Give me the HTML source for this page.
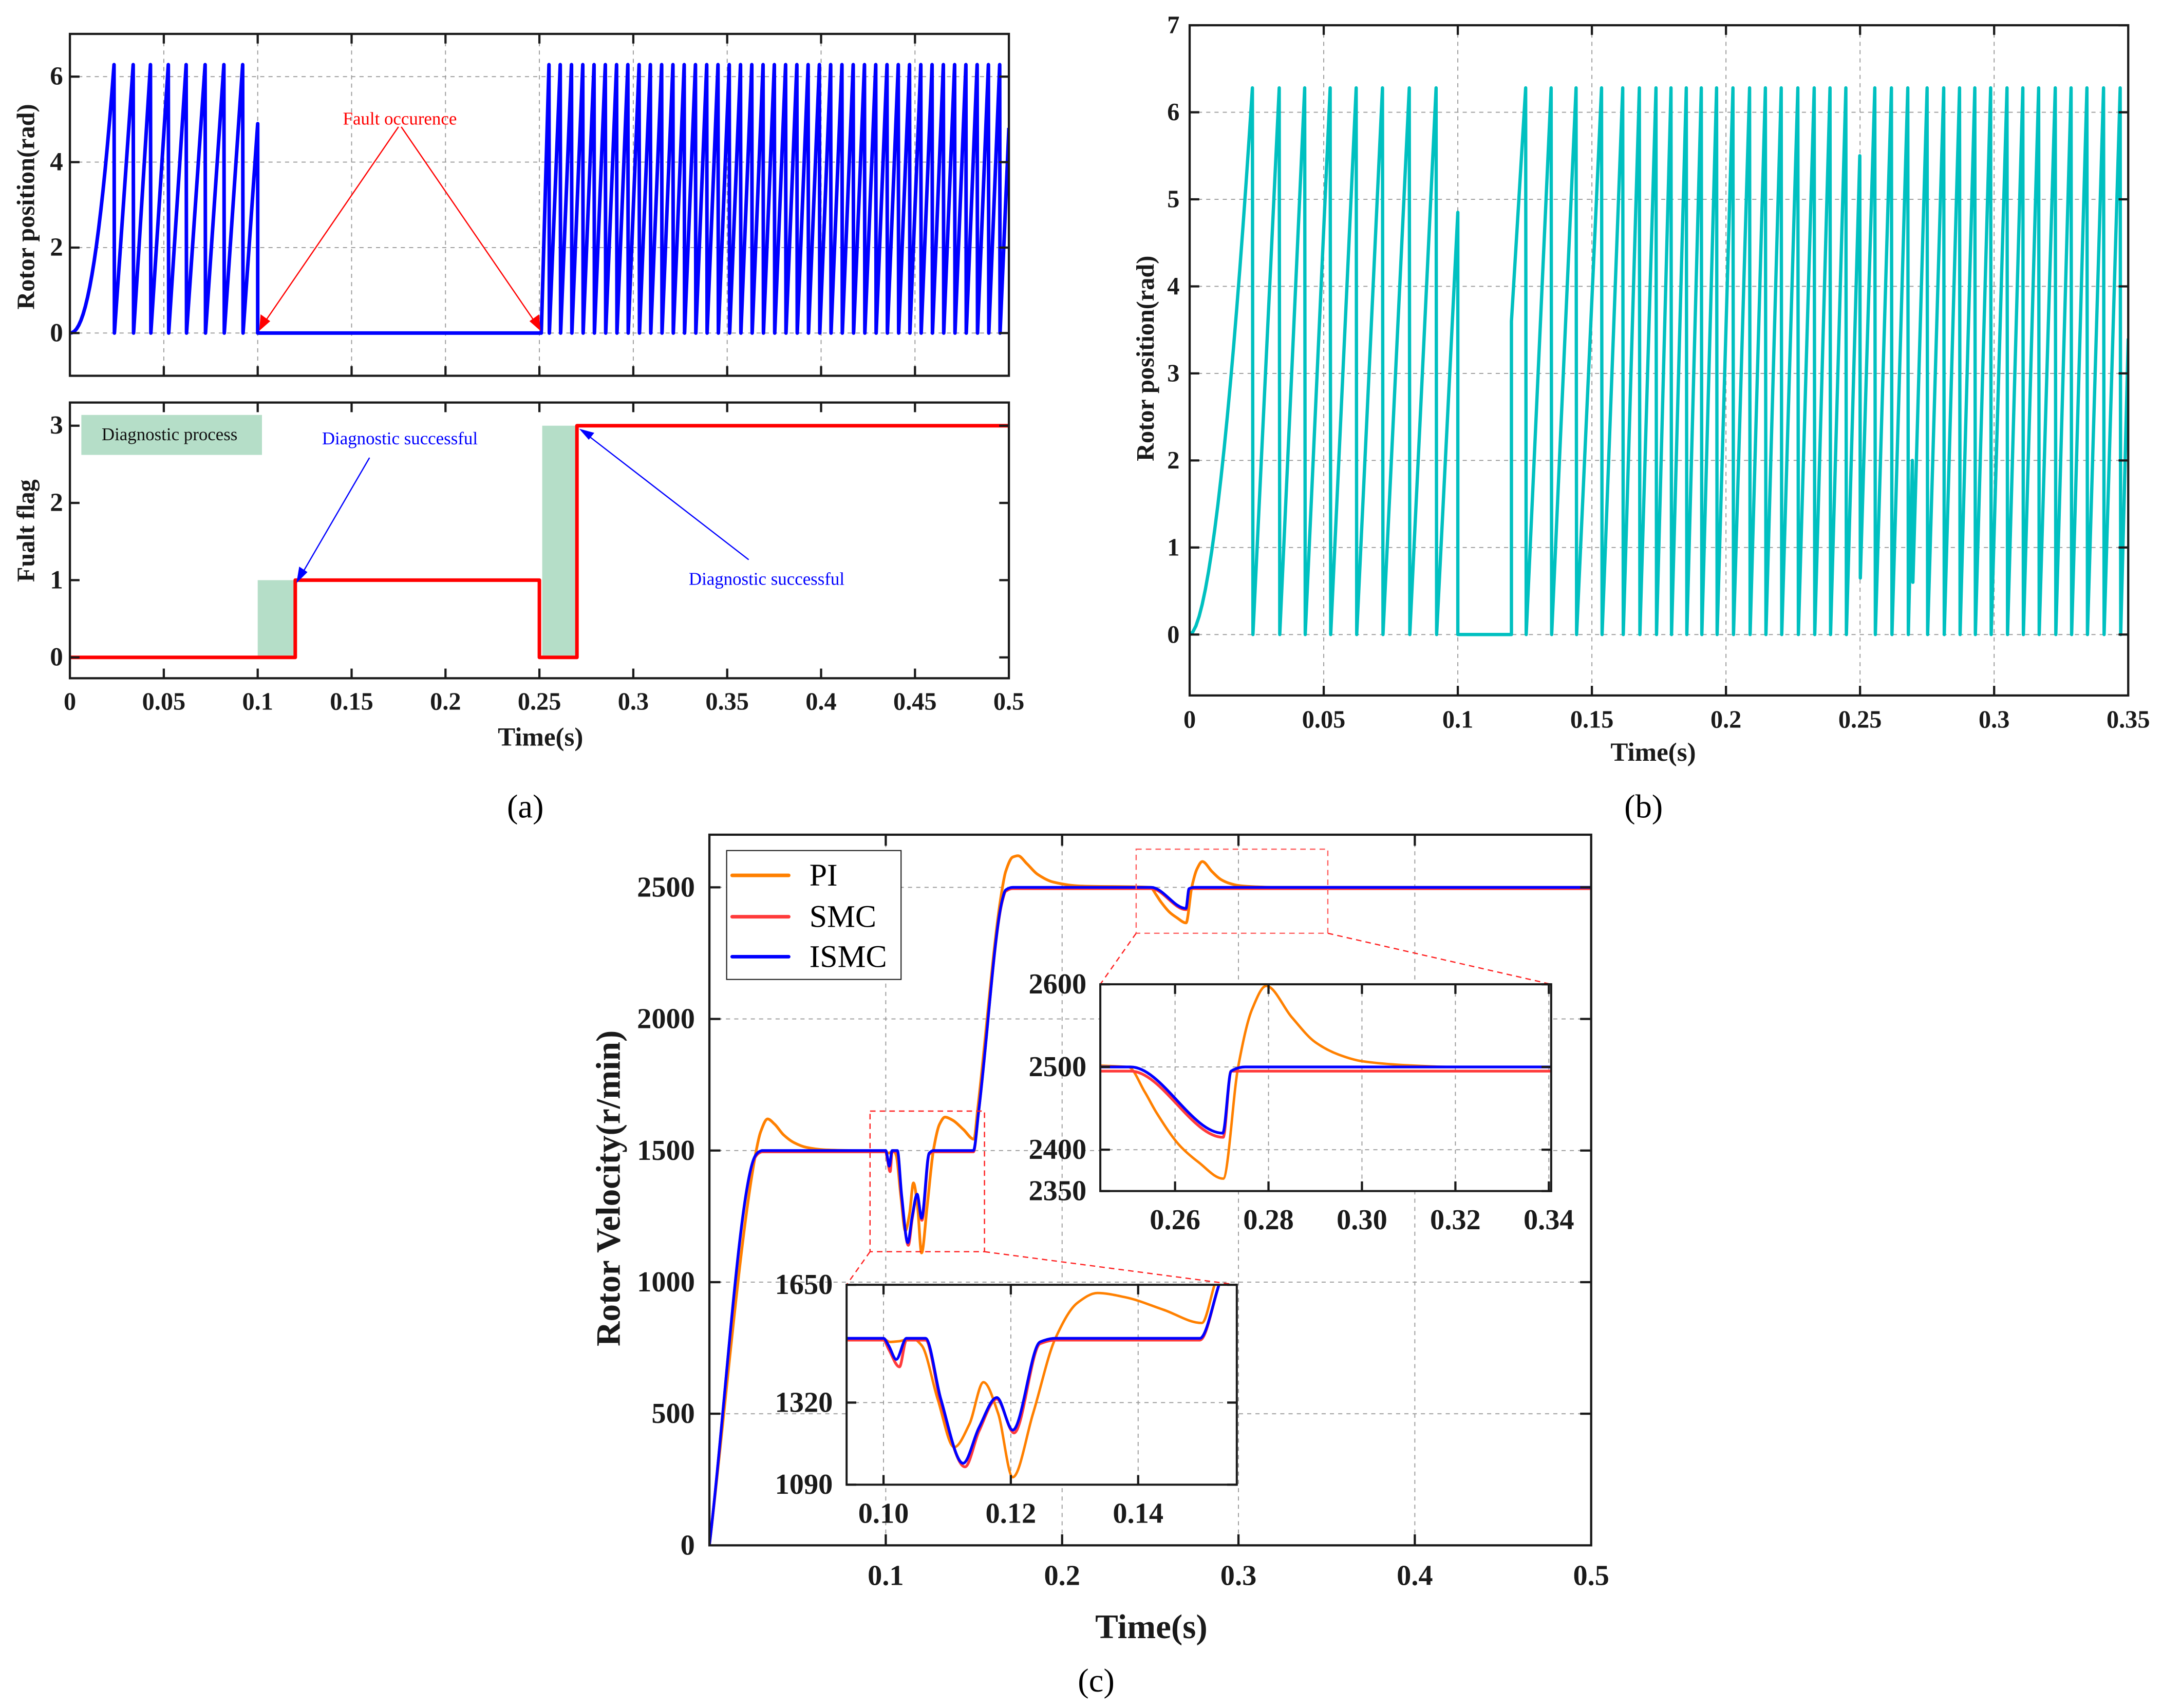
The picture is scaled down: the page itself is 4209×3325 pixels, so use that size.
<!DOCTYPE html>
<html><head><meta charset="utf-8"><style>
html,body{margin:0;padding:0;background:#fff;width:4209px;height:3325px;overflow:hidden;}
svg{display:block;position:absolute;left:0;top:0;}
text{font-family:"Liberation Serif",serif;}
</style></head><body>
<svg id="fig" xmlns="http://www.w3.org/2000/svg" width="4209" height="3325" viewBox="0 0 1568 1239" preserveAspectRatio="none" overflow="hidden"></svg>
<script>
// ---------- DATA ----------
const aPeaks1 = [0.0235,0.0337,0.0429,0.0524,0.0619,0.072,0.082,0.092];
const aPartial1 = 4.9;
const aPeaks2 = [0.2551,0.2611,0.2671,0.2731,0.2791,0.2851,0.2911,0.2971,0.3031,0.3091,0.3151,0.3211,0.3271,0.3331,0.3391,0.3451,0.3511,0.3571,0.3631,0.3691,0.3751,0.3811,0.3871,0.3931,0.3991,0.4051,0.4111,0.4171,0.4231,0.4291,0.4351,0.4411,0.4471,0.4531,0.4591,0.4651,0.4711,0.4771,0.4831,0.4891,0.4951];
const aPartialEnd = 4.8;
const flagT = [0,0.12,0.12,0.25,0.25,0.27,0.27,0.5];
const flagV = [0,0,1,1,0,0,3,3];
const bPeaks1 = [0.0234,0.0334,0.0429,0.0524,0.0621,0.0719,0.0819,0.0919];
const bPartial1 = 4.85;
const bRestartV = 3.6;
const bPeakT = [0.1253,0.1348,0.1441,0.1536,0.1615,0.1677,0.1739,0.1795,0.1852,0.1908,0.1965,0.2026,0.2088,0.2147,0.2206,0.2268,0.2329,0.2388,0.2447,0.2499,0.2555,0.2617,0.2678,0.2695,0.275,0.2812,0.2871,0.2928,0.2987,0.3048,0.3107,0.3166,0.3228,0.3287,0.3346,0.3408,0.347];
const bPeakV = [6.28,6.28,6.28,6.28,6.28,6.28,6.28,6.28,6.28,6.28,6.28,6.28,6.28,6.28,6.28,6.28,6.28,6.28,6.28,5.5,6.28,6.28,6.28,2.0,6.28,6.28,6.28,6.28,6.28,6.28,6.28,6.28,6.28,6.28,6.28,6.28,6.28];
const bResetV = [0,0,0,0,0,0,0,0,0,0,0,0,0,0,0,0,0,0,0,0.65,0,0,0,0.6,0,0,0,0,0,0,0,0,0,0,0,0,0];
const bEndV = 3.4;
const piT = [0,0.026,0.029,0.033,0.037,0.042,0.048,0.055,0.065,0.08,0.1,0.101,0.1025,0.1045,0.106,0.1085,0.1111,0.1135,0.1157,0.118,0.1203,0.1235,0.127,0.1305,0.1336,0.138,0.144,0.15,0.152,0.165,0.168,0.172,0.175,0.18,0.186,0.195,0.21,0.25,0.2535,0.256,0.261,0.265,0.2703,0.2735,0.2765,0.2795,0.285,0.29,0.295,0.3,0.31,0.32,0.5];
const piV = [0,1480,1570,1620,1600,1560,1530,1512,1503,1500,1498,1490,1492,1500,1480,1330,1195,1260,1377,1290,1111,1290,1500,1600,1627,1615,1580,1543,1650,2450,2560,2615,2620,2590,2550,2520,2505,2500,2470,2445,2405,2385,2365,2500,2570,2598,2560,2530,2515,2507,2502,2500,2500];
const smcT = [0,0.026,0.028,0.03,0.1,0.1008,0.1025,0.1036,0.1066,0.109,0.1128,0.115,0.1178,0.1205,0.1246,0.127,0.1497,0.1527,0.166,0.168,0.172,0.2505,0.2703,0.272,0.5];
const smcV = [0,1475,1490,1495,1495,1470,1420,1495,1495,1320,1140,1240,1330,1235,1485,1495,1495,1650,2445,2485,2495,2495,2415,2495,2495];
const ismcT = [0,0.026,0.028,0.03,0.1,0.1008,0.102,0.1036,0.1066,0.109,0.1125,0.115,0.1178,0.1203,0.1246,0.127,0.1497,0.1527,0.166,0.168,0.172,0.2505,0.2702,0.272,0.275,0.5];
const ismcV = [0,1480,1495,1500,1500,1480,1441,1500,1500,1330,1150,1250,1334,1243,1490,1500,1500,1650,2450,2490,2500,2500,2420,2495,2500,2500];
const aXTicks = ["0","0.05","0.1","0.15","0.2","0.25","0.3","0.35","0.4","0.45","0.5"];
const bXTicks = ["0","0.05","0.1","0.15","0.2","0.25","0.3","0.35"];
const cXTicks = ["0.1","0.2","0.3","0.4","0.5"];
const cYTicks = ["0","500","1000","1500","2000","2500"];

// ---------- HELPERS ----------
const NS="http://www.w3.org/2000/svg";
const svg=document.getElementById('fig');
const defs=document.createElementNS(NS,'defs');svg.appendChild(defs);
function mk(tag,attrs,parent){const e=document.createElementNS(NS,tag);for(const k in attrs)e.setAttribute(k,attrs[k]);(parent||svg).appendChild(e);return e;}
function txt(s,x,y,size,opts,parent){opts=opts||{};const t=mk('text',{x:x,y:y,'font-size':size,'text-anchor':opts.anchor||'middle','dominant-baseline':'central','font-weight':opts.bold===false?'normal':'bold',fill:opts.fill||'#1a1a1a'},parent);if(opts.rot)t.setAttribute('transform','rotate(-90 '+x+' '+y+')');t.textContent=s;return t;}
function scale(d0,d1,p0,p1){return v=>p0+(v-d0)/(d1-d0)*(p1-p0);}
let clipN=0;
function clip(x0,y0,x1,y1){const id='c'+(clipN++);const cp=mk('clipPath',{id:id},defs);mk('rect',{x:x0,y:y0,width:x1-x0,height:y1-y0},cp);return 'url(#'+id+')';}
function poly(ts,vs,X,Y,color,w,cl,parent){let d='';for(let i=0;i<ts.length;i++)d+=(i?'L':'M')+X(ts[i]).toFixed(2)+' '+Y(vs[i]).toFixed(2);return mk('path',{d:d,fill:'none',stroke:color,'stroke-width':w,'stroke-linejoin':'round','clip-path':cl},parent);}
// Fritsch-Carlson monotone cubic
function smooth(ts,vs,X,Y,color,w,cl,parent){
 const px=ts.map(X),py=vs.map(Y),n=px.length;
 const h=[],d=[];
 for(let i=0;i<n-1;i++){const dx=Math.max(px[i+1]-px[i],1e-6);h.push(dx);d.push((py[i+1]-py[i])/dx);}
 const m=new Array(n).fill(0);
 m[0]=d[0];m[n-1]=d[n-2];
 for(let i=1;i<n-1;i++){
  if(d[i-1]*d[i]<=0){m[i]=0;}
  else{const w1=2*h[i]+h[i-1],w2=h[i]+2*h[i-1];m[i]=(w1+w2)/(w1/d[i-1]+w2/d[i]);}
 }
 let s='M'+px[0].toFixed(2)+' '+py[0].toFixed(2);
 for(let i=0;i<n-1;i++){const dx=h[i];
  s+='C'+(px[i]+dx/3).toFixed(2)+' '+(py[i]+m[i]*dx/3).toFixed(2)+' '+(px[i+1]-dx/3).toFixed(2)+' '+(py[i+1]-m[i+1]*dx/3).toFixed(2)+' '+px[i+1].toFixed(2)+' '+py[i+1].toFixed(2);}
 return mk('path',{d:s,fill:'none',stroke:color,'stroke-width':w,'stroke-linejoin':'round','clip-path':cl},parent);}
function gridV(x,y0,y1,g){return mk('line',{x1:x,x2:x,y1:y0,y2:y1,stroke:'#9a9a9a','stroke-width':0.7,'stroke-dasharray':'3,3'},g);}
function gridH(y,x0,x1,g){return mk('line',{x1:x0,x2:x1,y1:y,y2:y,stroke:'#9a9a9a','stroke-width':0.7,'stroke-dasharray':'3,3'},g);}
function frame(x0,y0,x1,y1,g,w){return mk('rect',{x:x0,y:y0,width:x1-x0,height:y1-y0,fill:'none',stroke:'#1a1a1a','stroke-width':w||1.6},g);}
function tick(x1,y1,x2,y2,g){return mk('line',{x1:x1,y1:y1,x2:x2,y2:y2,stroke:'#1a1a1a','stroke-width':1.6},g);}

// ---------- PANEL A TOP ----------
{
const g=mk('g',{});


const x0=50.7,x1=731.7,y0=24.6,y1=272.6;
const X=scale(0,0.5,x0,x1),Y=scale(-1,7,y1,y0);
for(let i=1;i<10;i++)gridV(X(i*0.05),y0,y1,g);
[0,2,4,6].forEach(v=>gridH(Y(v),x0,x1,g));
const ts=[],vs=[];
const N=20;
for(let i=0;i<=N;i++){const t=aPeaks1[0]*i/N;ts.push(t);vs.push(6.28*Math.pow(i/N,2.2));}
for(let k=0;k<aPeaks1.length;k++){ts.push(aPeaks1[k]+0.0002);vs.push(0);
 if(k+1<aPeaks1.length){ts.push(aPeaks1[k+1]);vs.push(6.28);} }
ts.push(0.1);vs.push(aPartial1);ts.push(0.1);vs.push(0);
ts.push(0.251);vs.push(0);
for(let k=0;k<aPeaks2.length;k++){ts.push(aPeaks2[k]);vs.push(6.28);ts.push(aPeaks2[k]+0.0002);vs.push(0);}
ts.push(0.5);vs.push(aPartialEnd);
const p=poly(ts,vs,X,Y,'#0000ff',2.6,clip(x0,y0,x1,y1),g);


frame(x0,y0,x1,y1,g);
for(let i=1;i<10;i++){tick(X(i*0.05),y0,X(i*0.05),y0+7,g);tick(X(i*0.05),y1,X(i*0.05),y1-7,g);}
[0,2,4,6].forEach(v=>{tick(x0,Y(v),x0+7,Y(v),g);tick(x1,Y(v),x1-7,Y(v),g);txt(String(v),41,Y(v),19,{},g);});
const yl=txt('Rotor position(rad)',19,150,18,{rot:true},g);


const an=mk('g',{},g);


txt('Fault occurence',290,86,13,{bold:false,fill:'#ff0000'},an);
mk('line',{x1:289,y1:92,x2:189,y2:238,stroke:'#ff0000','stroke-width':0.9},an);
mk('line',{x1:291,y1:92,x2:391,y2:238,stroke:'#ff0000','stroke-width':0.9},an);
mk('path',{d:'M188 240 L189 228 L196 233 Z',fill:'#ff0000'},an);
mk('path',{d:'M392 240 L384 233 L391 228 Z',fill:'#ff0000'},an);
}

// ---------- PANEL A BOTTOM ----------
{
const g=mk('g',{});


const x0=50.7,x1=731.7,y0=292,y1=492;
const X=scale(0,0.5,x0,x1),Y=scale(-0.27,3.3,y1,y0);
const r1=mk('rect',{x:X(0.1),y:Y(1),width:X(0.12)-X(0.1),height:Y(0)-Y(1),fill:'#b5dec8'},g);


const r2=mk('rect',{x:X(0.2515),y:Y(3),width:X(0.27)-X(0.2515),height:Y(0)-Y(3),fill:'#b5dec8'},g);


const p=poly(flagT,flagV,X,Y,'#ff0000',2.6,clip(x0,y0,x1,y1),g);


frame(x0,y0,x1,y1,g);
for(let i=1;i<10;i++){tick(X(i*0.05),y0,X(i*0.05),y0+7,g);tick(X(i*0.05),y1,X(i*0.05),y1-7,g);}
[0,1,2,3].forEach(v=>{tick(x0,Y(v),x0+7,Y(v),g);tick(x1,Y(v),x1-7,Y(v),g);txt(String(v),41,Y(v),19,{},g);});
aXTicks.forEach((s,i)=>txt(s,X(i*0.05),509,18,{},g));
const xl=txt('Time(s)',392,535,19,{},g);


const yl=txt('Fualt flag',19,385,18,{rot:true},g);


const lg=mk('g',{},g);


mk('rect',{x:59,y:301,width:131,height:29,fill:'#b5dec8'},lg);
txt('Diagnostic process',123,315,13,{bold:false,fill:'#111'},lg);
const a1=mk('g',{},g);


txt('Diagnostic successful',290,318,13,{bold:false,fill:'#0000ff'},a1);
mk('line',{x1:268,y1:332,x2:218,y2:418,stroke:'#0000ff','stroke-width':0.9},a1);
mk('path',{d:'M215 423 L217 411 L223 415 Z',fill:'#0000ff'},a1);
const a2=mk('g',{},g);


txt('Diagnostic successful',556,420,13,{bold:false,fill:'#0000ff'},a2);
mk('line',{x1:543,y1:406,x2:424,y2:314,stroke:'#0000ff','stroke-width':0.9},a2);
mk('path',{d:'M420 311 L431 314 L427 319 Z',fill:'#0000ff'},a2);
const lab=txt('(a)',381,585,24,{bold:false,fill:'#000'},svg);


}

// ---------- PANEL B ----------
{
const g=mk('g',{});


const x0=862.8,x1=1543.5,y0=18.3,y1=504.5;
const X=scale(0,0.35,x0,x1),Y=scale(-0.7,7,y1,y0);
for(let i=1;i<7;i++)gridV(X(i*0.05),y0,y1,g);
[0,1,2,3,4,5,6].forEach(v=>gridH(Y(v),x0,x1,g));
const ts=[],vs=[];
const N=20;
for(let i=0;i<=N;i++){const t=bPeaks1[0]*i/N;ts.push(t);vs.push(6.28*Math.pow(i/N,1.8));}
for(let k=0;k<bPeaks1.length;k++){ts.push(bPeaks1[k]+0.0002);vs.push(0);
 if(k+1<bPeaks1.length){ts.push(bPeaks1[k+1]);vs.push(6.28);} }
ts.push(0.1);vs.push(bPartial1);ts.push(0.1);vs.push(0);
ts.push(0.12);vs.push(0);ts.push(0.12);vs.push(bRestartV);
for(let k=0;k<bPeakT.length;k++){ts.push(bPeakT[k]);vs.push(bPeakV[k]);ts.push(bPeakT[k]+0.0002);vs.push(bResetV[k]);}
ts.push(0.35);vs.push(bEndV);
const p=poly(ts,vs,X,Y,'#00c0c0',2.4,clip(x0,y0,x1,y1),g);


frame(x0,y0,x1,y1,g);
for(let i=1;i<7;i++){tick(X(i*0.05),y0,X(i*0.05),y0+7,g);tick(X(i*0.05),y1,X(i*0.05),y1-7,g);}
[0,1,2,3,4,5,6,7].forEach(v=>{tick(x0,Y(v),x0+7,Y(v),g);tick(x1,Y(v),x1-7,Y(v),g);txt(String(v),851,Y(v),18,{},g);});
bXTicks.forEach((s,i)=>txt(s,X(i*0.05),522,18,{},g));
const xl=txt('Time(s)',1199,546,19,{},g);


const yl=txt('Rotor position(rad)',831,260,18,{rot:true},g);


const lab=txt('(b)',1192,585,24,{bold:false,fill:'#000'},svg);


}

// ---------- PANEL C ----------
{
const g=mk('g',{});


const x0=514.5,x1=1154,y0=605.5,y1=1121;
const X=scale(0,0.5,x0,x1),Y=scale(0,2700,y1,y0);
for(let i=1;i<5;i++)gridV(X(i*0.1),y0,y1,g);
[500,1000,1500,2000,2500].forEach(v=>gridH(Y(v),x0,x1,g));
const cl=clip(x0,y0,x1,y1);
const sPI=smooth(piT,piV,X,Y,'#ff8000',2,cl,g);


const sSMC=smooth(smcT,smcV,X,Y,'#ff3b3b',2,cl,g);


const sISMC=smooth(ismcT,ismcV,X,Y,'#0000ff',2,cl,g);


const zr=mk('g',{},g);


mk('rect',{x:631,y:806,width:83,height:102,fill:'none',stroke:'#ff2020','stroke-width':0.9,'stroke-dasharray':'4,3'},zr);
mk('line',{x1:631,y1:908,x2:614,y2:932,stroke:'#ff2020','stroke-width':0.9,'stroke-dasharray':'4,3'},zr);
mk('line',{x1:714,y1:908,x2:897,y2:932,stroke:'#ff2020','stroke-width':0.9,'stroke-dasharray':'4,3'},zr);
mk('rect',{x:824,y:616,width:139,height:61,fill:'none',stroke:'#ff6060','stroke-width':0.9,'stroke-dasharray':'4,3'},zr);
mk('line',{x1:824,y1:677,x2:798,y2:714,stroke:'#ff2020','stroke-width':0.9,'stroke-dasharray':'4,3'},zr);
mk('line',{x1:963,y1:677,x2:1125,y2:714,stroke:'#ff2020','stroke-width':0.9,'stroke-dasharray':'4,3'},zr);
frame(x0,y0,x1,y1,g);
for(let i=1;i<5;i++){tick(X(i*0.1),y0,X(i*0.1),y0+8,g);tick(X(i*0.1),y1,X(i*0.1),y1-8,g);}
[500,1000,1500,2000,2500].forEach(v=>{tick(x0,Y(v),x0+8,Y(v),g);tick(x1,Y(v),x1-8,Y(v),g);});
cYTicks.forEach((s,i)=>txt(s,504,Y(i*500),21,{anchor:'end'},g));
cXTicks.forEach((s,i)=>txt(s,X((i+1)*0.1),1143,21,{},g));
const xl=txt('Time(s)',835,1180,25,{},g);


const yl=txt('Rotor Velocity(r/min)',441,862,25,{rot:true},g);


const lg=mk('g',{},g);


mk('rect',{x:527,y:617,width:126.5,height:93.5,fill:'#fff',stroke:'#222','stroke-width':0.8},lg);
[['PI','#ff8000',635],['SMC','#ff3b3b',665],['ISMC','#0000ff',694]].forEach(e=>{
 const en=mk('g',{},lg);
 
 
 mk('line',{x1:531,x2:572,y1:e[2],y2:e[2],stroke:e[1],'stroke-width':2.6,'stroke-linecap':'round'},en);
 txt(e[0],587,e[2],23,{anchor:'start',bold:false,fill:'#000'},en);
});
function inset(name,ix0,iy0,ix1,iy1,xd0,xd1,yd0,yd1,xt,xtl,yt,ytl,ylx){
 const ig=mk('g',{},g);
 
 
 mk('rect',{x:ix0,y:iy0,width:ix1-ix0,height:iy1-iy0,fill:'#fff'},ig);
 const IX=scale(xd0,xd1,ix0,ix1),IY=scale(yd0,yd1,iy1,iy0);
 xt.forEach(v=>gridV(IX(v),iy0,iy1,ig));
 yt.forEach(v=>gridH(IY(v),ix0,ix1,ig));
 const c=clip(ix0,iy0,ix1,iy1);
 const a=smooth(piT,piV,IX,IY,'#ff8000',1.8,c,ig);
 
 
 const b=smooth(smcT,smcV,IX,IY,'#ff3b3b',2,c,ig);
 
 
 const d=smooth(ismcT,ismcV,IX,IY,'#0000ff',2,c,ig);
 
 
 frame(ix0,iy0,ix1,iy1,ig,1.5);
 xt.forEach((v,i)=>{tick(IX(v),iy0,IX(v),iy0+7,ig);tick(IX(v),iy1,IX(v),iy1-7,ig);txt(xtl[i],IX(v),iy1+21,21,{},ig);});
 yt.forEach((v,i)=>{tick(ix0,IY(v),ix0+7,IY(v),ig);tick(ix1,IY(v),ix1-7,IY(v),ig);txt(ytl[i],ylx,IY(v),21,{anchor:'end'},ig);});
}
inset('inset-fault-1',614,932,897,1077,0.0942,0.1555,1090,1650,[0.10,0.12,0.14],['0.10','0.12','0.14'],[1090,1320,1650],['1090','1320','1650'],604);
inset('inset-fault-2',798,714,1125,864,0.244,0.3405,2350,2600,[0.26,0.28,0.30,0.32,0.34],['0.26','0.28','0.30','0.32','0.34'],[2350,2400,2500,2600],['2350','2400','2500','2600'],788);
const lab=txt('(c)',795,1219,24,{bold:false,fill:'#000'},svg);


}
</script>
</body></html>
